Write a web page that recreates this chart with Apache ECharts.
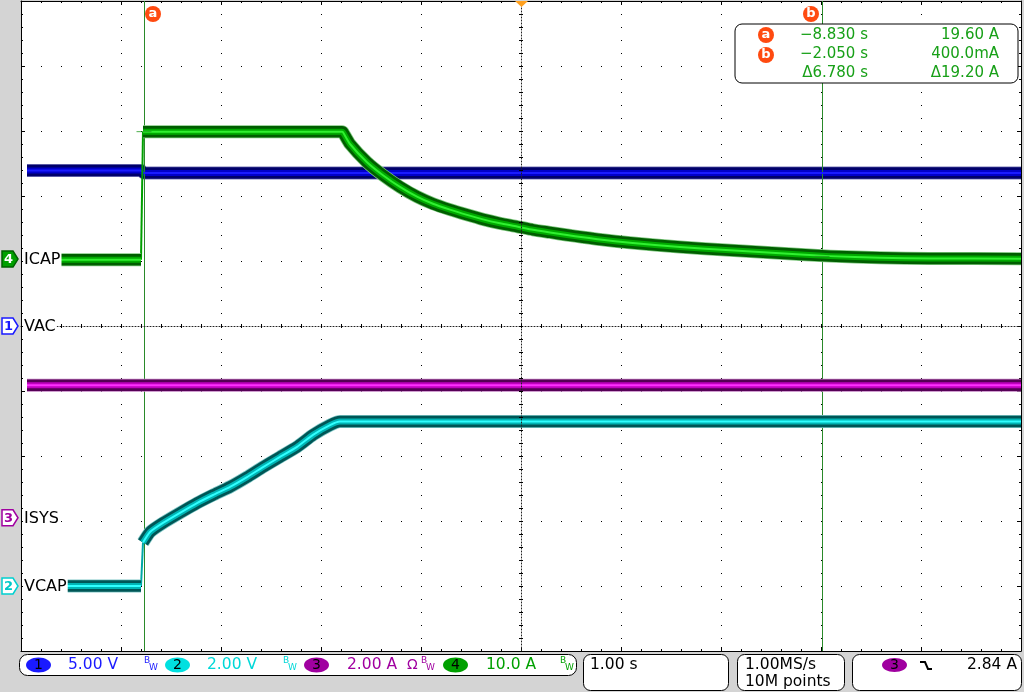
<!DOCTYPE html>
<html><head><meta charset="utf-8">
<script src="https://cdn.jsdelivr.net/npm/echarts@6/dist/echarts.min.js"></script>
<style>html,body{margin:0;padding:0;background:#d4d4d4;}#c{width:1024px;height:692px;}</style>
</head><body><div id="c"></div>
<script>
// Time: seconds from left edge of screen (1.00 s/div, 10 divisions)
const cursorT = [1.23, 8.01];            // cursor a, cursor b
const cursorIcap = [19.6, 0.4];          // ICAP readout at cursors (A)
const readTimes = ['\u22128.830 s', '\u22122.050 s', '\u03946.780 s'];
const readVals = ['19.60 A', '400.0mA', '\u039419.20 A'];

// CH1 VAC (5.00 V/div, ground at centre)
const vacT = [0.06, 1.20, 1.23, 10.0];
const vacV = [11.96, 11.96, 11.77, 11.77];
// CH3 ISYS (2.00 A/div)
const isysT = [0.06, 10.0];
const isysA = [4.08, 4.08];
// CH2 VCAP (2.00 V/div)
const vcapT = [0.06, 1.20, 1.22, 1.29, 1.42, 1.59, 1.76, 1.92, 2.09, 2.26, 2.42, 2.59, 2.76, 2.92, 3.09, 3.19, 3.25, 10.0];
const vcapV = [0.0, 0.0, 1.34, 1.66, 1.94, 2.25, 2.55, 2.80, 3.05, 3.35, 3.66, 3.97, 4.28, 4.65, 4.95, 5.06, 5.06, 5.06];
const vcapStep = 1; // fast edge between index 1 and 2
// CH4 ICAP (10.0 A/div)
const icapT = [0.06, 1.20, 1.22, 3.21, 3.22, 3.29, 3.46, 3.62, 3.79, 3.96, 4.12, 4.29, 4.46, 4.62, 4.79, 4.96, 5.12, 5.29, 5.46, 5.62, 5.79, 6.09, 6.59, 7.09, 7.59, 8.09, 8.59, 9.09, 10.0];
const icapA = [-0.1, -0.1, 19.6, 19.6, 19.5, 17.7, 14.9, 12.9, 11.1, 9.6, 8.5, 7.6, 6.8, 6.1, 5.5, 5.0, 4.5, 4.1, 3.7, 3.35, 3.0, 2.5, 1.85, 1.35, 0.9, 0.45, 0.2, 0.1, 0.05];
const icapStep = 1;

// channel scale (units/div) and ground offset (div from centre)
const chScale = {vac: 5, vcap: 2, isys: 2, icap: 10};
const chOffset = {vac: 0, vcap: -4.0, isys: -2.95, icap: 1.03};

function pts(ts, vs, ch, from, to) {
  const out = [];
  for (let i = from; i <= to; i++) out.push([ts[i], vs[i] / chScale[ch] + chOffset[ch]]);
  return out;
}
function band(data, cols, z, smooth) {
  const widths = [13, 11.5, 6, 2];
  return widths.map((w, i) => ({
    type: 'line', data: data, symbol: 'none', showSymbol: false, silent: true, animation: false,
    xAxisIndex: 0, yAxisIndex: 0, z: z + i, clip: true,
    smooth: smooth || false,
    lineStyle: {width: w, color: cols[i], cap: 'butt', join: 'round'}
  }));
}
function thin(data, color, z) {
  return {type: 'line', data: data, symbol: 'none', showSymbol: false, silent: true, animation: false,
    xAxisIndex: 0, yAxisIndex: 0, z: z, lineStyle: {width: 2, color: color}};
}

const blueC = ['#7878b8', '#00006a', '#0000c8', '#1a1aff'];
const magC = ['#c080c0', '#560056', '#c000c0', '#ff30ff'];
const cyanC = ['#80c8c8', '#005656', '#00b4b4', '#30ffff'];
const greenC = ['#80c880', '#005e00', '#00aa00', '#30f030'];

let series = [];
series = series.concat(band(pts(vacT, vacV, 'vac', 0, vacT.length - 1), blueC, 2));
series = series.concat(band(pts(isysT, isysA, 'isys', 0, isysT.length - 1), magC, 10));
series = series.concat(band(pts(vcapT, vcapV, 'vcap', 0, vcapStep), cyanC, 20));
series.push(thin(pts(vcapT, vcapV, 'vcap', vcapStep, vcapStep + 1), '#00a8a8', 19));
series = series.concat(band(pts(vcapT, vcapV, 'vcap', vcapStep + 1, vcapT.length - 1), cyanC, 20, 0.15));
series = series.concat(band(pts(icapT, icapA, 'icap', 0, icapStep), greenC, 30));
series.push(thin(pts(icapT, icapA, 'icap', icapStep, icapStep + 1), '#00a000', 29));
series = series.concat(band(pts(icapT, icapA, 'icap', icapStep + 1, icapT.length - 1), greenC, 30, 0.2));
// cursors
series.push({
  type: 'line', data: [], silent: true, animation: false, z: 50,
  markLine: {silent: true, symbol: 'none', animation: false, label: {show: false},
    lineStyle: {color: '#2a8a2a', width: 1, type: 'solid'},
    data: cursorT.map(t => ({xAxis: t}))}
});
series.push({
  type: 'scatter', silent: true, animation: false, z: 51, symbol: 'rect', symbolSize: [15, 1],
  itemStyle: {color: '#1f9a1f'},
  data: cursorT.map((t, i) => [t, cursorIcap[i] / chScale.icap + chOffset.icap])
});

const tickStyle = {color: '#000', width: 1};
function edgeX(pos, split) {
  return {gridIndex: 0, type: 'value', min: 0, max: 10, interval: 1, position: pos,
    axisLine: {show: true, onZero: false, lineStyle: {color: '#000', width: 1}},
    axisTick: {show: true, inside: true, length: 4, lineStyle: tickStyle},
    minorTick: {show: true, splitNumber: 5, length: 2, lineStyle: tickStyle},
    axisLabel: {show: false},
    splitLine: {show: split, lineStyle: {color: '#000', width: 1, type: [1, 12]}},
    minorSplitLine: {show: false}};
}
function edgeY(pos, split) {
  return {gridIndex: 0, type: 'value', min: -5, max: 5, interval: 1, position: pos,
    axisLine: {show: true, onZero: false, lineStyle: {color: '#000', width: 1}},
    axisTick: {show: true, inside: true, length: 4, lineStyle: tickStyle},
    minorTick: {show: true, splitNumber: 5, length: 2, lineStyle: tickStyle},
    axisLabel: {show: false},
    splitLine: {show: split, lineStyle: {color: '#000', width: 1, type: [1, 19]}},
    minorSplitLine: {show: false}};
}
function centerAx(g, inside, showLine) {
  return {gridIndex: g, type: 'value', min: -5, max: 5, interval: 1, z: 60,
    axisLine: {show: showLine, onZero: true, lineStyle: {color: '#222', width: 1, type: [1, 2]}},
    axisTick: {show: true, inside: inside, length: 2, lineStyle: tickStyle},
    minorTick: {show: true, splitNumber: 5, length: 2, lineStyle: tickStyle},
    axisLabel: {show: false}, splitLine: {show: false}};
}

const FONT = 'DejaVu Sans';
const G = [];
function txt(x, y, s, color, size, align, extra) {
  G.push(Object.assign({type: 'text', x: x, y: y, z: 100,
    style: Object.assign({text: s, fill: color, fontFamily: FONT, fontSize: size,
      textAlign: align || 'left', textVerticalAlign: 'middle'}, extra || {})}));
}
// left channel markers
function chMarker(y, num, stroke, fill, tcolor) {
  G.push({type: 'polygon', z: 100, shape: {points: [[2, y - 8], [13, y - 8], [18, y], [13, y + 8], [2, y + 8]]},
    style: {fill: fill, stroke: stroke, lineWidth: 1.5}});
  txt(8.5, y + 0.5, num, tcolor, 13, 'center', {fontWeight: 'bold'});
}
const yPix = off => 326 - off * 65;
chMarker(yPix(chOffset.icap), '4', '#006000', '#00a000', '#ffffff');
chMarker(yPix(chOffset.vac), '1', '#1a1aff', '#ffffff', '#1a1aff');
chMarker(yPix(chOffset.isys), '3', '#a000a0', '#ffffff', '#a000a0');
chMarker(yPix(chOffset.vcap), '2', '#00d0d0', '#ffffff', '#00c8c8');
const lab = {backgroundColor: '#ffffff', padding: [1, 1, 1, 1]};
txt(23, yPix(chOffset.icap) + 1, 'ICAP', '#000', 16, 'left', lab);
txt(23, yPix(chOffset.vac) + 1, 'VAC', '#000', 16, 'left', lab);
txt(23, yPix(chOffset.isys) + 1, 'ISYS', '#000', 16, 'left', lab);
txt(23, yPix(chOffset.vcap) + 1, 'VCAP', '#000', 16, 'left', lab);

// cursor markers and trigger position marker
const ORANGE = '#ff4a10';
function circ(cx, cy, letter) {
  G.push({type: 'circle', z: 100, shape: {cx: cx, cy: cy, r: 8}, style: {fill: ORANGE}});
  txt(cx, cy, letter, '#fff', 13, 'center', {fontWeight: 'bold'});
}
circ(153, 14, 'a');
circ(811, 14, 'b');
G.push({type: 'polygon', z: 100, shape: {points: [[515, 1], [528, 1], [521.5, 7]]}, style: {fill: '#ffa01e'}});

// readout box
G.push({type: 'rect', z: 99, shape: {x: 735, y: 24, width: 283, height: 59, r: 7}, style: {fill: '#fff', stroke: '#000', lineWidth: 1}});
circ(766, 35, 'a');
circ(766, 55, 'b');
const RG = '#18a018';
const rowY = [35, 54, 73];
rowY.forEach((y, i) => { txt(868, y, readTimes[i], RG, 15, 'right'); txt(999, y, readVals[i], RG, 15, 'right'); });

// bottom status bar
G.push({type: 'rect', z: 99, shape: {x: 19.5, y: 654.5, width: 557, height: 21, r: 8}, style: {fill: '#fff', stroke: '#000', lineWidth: 1}});
function chip(cx, num, fill) {
  G.push({type: 'ellipse', z: 100, shape: {cx: cx, cy: 665, rx: 12.5, ry: 7.5}, style: {fill: fill}});
  txt(cx, 665.5, num, '#000', 14, 'center');
}
function bw(x, color) {
  txt(x, 661, 'B', color, 9, 'left');
  txt(x + 5, 668, 'W', color, 9, 'left');
}
chip(38.5, '1', '#1a1aff'); txt(68, 665, '5.00 V', '#1a1aff', 15.5); bw(144, '#1a1aff');
chip(177.5, '2', '#00e0e0'); txt(207, 665, '2.00 V', '#00d8d8', 15.5); bw(283, '#00d8d8');
chip(316.5, '3', '#a000a0'); txt(347, 665, '2.00 A', '#a000a0', 15.5); txt(407, 665, '\u03a9', '#a000a0', 14); bw(421, '#a000a0');
chip(455.5, '4', '#00a000'); txt(486, 665, '10.0 A', '#00a000', 15.5); bw(560, '#00a000');

G.push({type: 'rect', z: 99, shape: {x: 583.5, y: 654.5, width: 145, height: 36, r: 7}, style: {fill: '#fff', stroke: '#000', lineWidth: 1}});
txt(590, 665, '1.00 s', '#000', 15.5);
G.push({type: 'rect', z: 99, shape: {x: 737.5, y: 654.5, width: 107, height: 36, r: 7}, style: {fill: '#fff', stroke: '#000', lineWidth: 1}});
txt(745, 665, '1.00MS/s', '#000', 15.5);
txt(745, 682, '10M points', '#000', 15.5);
G.push({type: 'rect', z: 99, shape: {x: 852.5, y: 654.5, width: 169, height: 36, r: 7}, style: {fill: '#fff', stroke: '#000', lineWidth: 1}});
G.push({type: 'ellipse', z: 100, shape: {cx: 894.5, cy: 665, rx: 12.5, ry: 7}, style: {fill: '#a000a0'}});
txt(894.5, 665.5, '3', '#000', 14, 'center');
G.push({type: 'polyline', z: 100, shape: {points: [[920, 662], [925, 662], [928, 669], [932, 669]]}, style: {stroke: '#000', lineWidth: 2, fill: null}});
txt(1017, 665, '2.84 A', '#000', 15.5, 'right');

const chart = echarts.init(document.getElementById('c'), null, {renderer: 'canvas'});
chart.setOption({
  animation: false,
  backgroundColor: '#d4d4d4',
  grid: [
    {left: 21, right: 3, top: 1, bottom: 41, show: true, backgroundColor: '#ffffff', borderWidth: 0},
    {left: 21, right: 3, top: 1, bottom: 41, show: false},
    {left: 21, right: 3, top: 1, bottom: 41, show: false}
  ],
  xAxis: [edgeX('bottom', true), edgeX('top', false), centerAx(1, true, true), centerAx(2, false, false)],
  yAxis: [edgeY('left', true), edgeY('right', false), centerAx(1, true, true), centerAx(2, false, false)],
  series: series,
  graphic: G
});
</script>
</body></html>
